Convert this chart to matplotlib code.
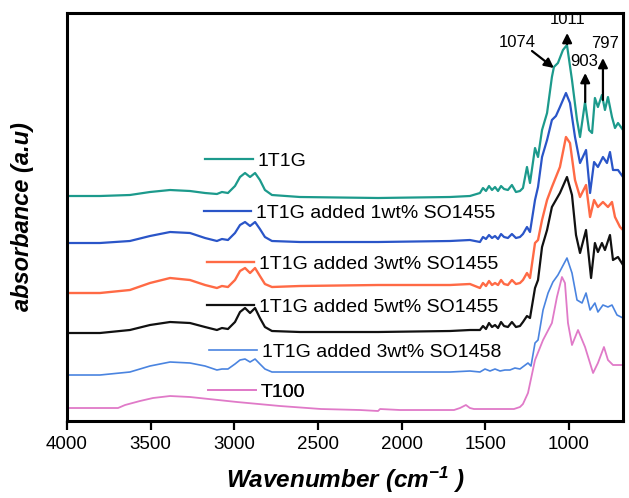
import matplotlib
matplotlib.use("Agg")
import matplotlib.pyplot as plt
from matplotlib.lines import Line2D

plt.rcParams['font.family'] = ['Liberation Sans', 'DejaVu Sans']
plt.rcParams['mathtext.fontset'] = 'custom'
plt.rcParams['mathtext.rm'] = 'Liberation Sans'
plt.rcParams['mathtext.bf'] = 'Liberation Sans:bold:italic'
plt.rcParams['mathtext.it'] = 'Liberation Sans:italic'

# ---------------- data (wavenumber cm-1, absorbance a.u., offset stacked) ----------------
wn_t = [4000, 3803, 3624, 3504, 3384, 3265, 3175, 3104, 3074, 3038, 2996, 2966, 2936, 2906, 2876,
        2847, 2817, 2775, 2608, 2141, 1711, 1592, 1532, 1514, 1496, 1478, 1460, 1442, 1424, 1406,
        1388, 1365, 1341, 1317, 1293, 1275, 1251, 1233, 1203, 1185, 1161, 1131, 1102, 1090, 1066,
        1036, 1012, 982, 952, 934, 904, 880, 862, 845, 827, 803, 785, 767, 743, 725, 707, 677]
ab_t = [2.25, 2.25, 2.26, 2.29, 2.31, 2.30, 2.28, 2.27, 2.29, 2.28, 2.35, 2.44, 2.48, 2.44, 2.48,
        2.41, 2.31, 2.26, 2.24, 2.23, 2.24, 2.25, 2.28, 2.33, 2.30, 2.35, 2.31, 2.34, 2.30, 2.35,
        2.32, 2.31, 2.36, 2.29, 2.30, 2.33, 2.54, 2.38, 2.73, 2.64, 2.91, 3.08, 3.44, 3.54, 3.58,
        3.71, 3.76, 3.41, 3.01, 2.84, 3.19, 2.91, 2.88, 3.23, 3.14, 3.26, 3.11, 3.24, 3.04, 2.93, 2.98, 2.91]

wn_b = [4000, 3803, 3624, 3504, 3384, 3265, 3175, 3104, 3074, 3038, 2996, 2966, 2936, 2906, 2876,
        2847, 2817, 2775, 2608, 2141, 1711, 1592, 1532, 1514, 1496, 1478, 1460, 1442, 1424, 1406,
        1388, 1365, 1341, 1317, 1293, 1275, 1251, 1233, 1203, 1185, 1161, 1131, 1102, 1078, 1054,
        1018, 994, 964, 934, 898, 874, 850, 827, 797, 773, 755, 737, 707, 677]
ab_b = [1.78, 1.78, 1.80, 1.85, 1.89, 1.88, 1.83, 1.80, 1.82, 1.81, 1.88, 1.96, 1.99, 1.95, 1.99,
        1.92, 1.84, 1.80, 1.79, 1.79, 1.80, 1.81, 1.79, 1.84, 1.82, 1.86, 1.83, 1.85, 1.82, 1.87,
        1.84, 1.83, 1.87, 1.83, 1.84, 1.87, 1.94, 1.89, 2.21, 2.34, 2.64, 2.81, 3.01, 3.05, 3.14,
        3.28, 3.18, 2.84, 2.58, 2.71, 2.28, 2.59, 2.54, 2.64, 2.58, 2.69, 2.51, 2.51, 2.44]

wn_o = [4000, 3803, 3624, 3504, 3384, 3265, 3175, 3104, 3074, 3038, 2996, 2966, 2936, 2906, 2876,
        2847, 2817, 2775, 2608, 2141, 1711, 1592, 1532, 1514, 1496, 1478, 1460, 1442, 1424, 1406,
        1388, 1365, 1341, 1317, 1293, 1275, 1251, 1233, 1203, 1185, 1161, 1131, 1102, 1078, 1054,
        1018, 994, 964, 934, 898, 874, 850, 827, 797, 767, 743, 725, 695, 677]
ab_o = [1.28, 1.28, 1.31, 1.38, 1.43, 1.41, 1.36, 1.33, 1.35, 1.34, 1.41, 1.50, 1.53, 1.48, 1.53,
        1.45, 1.37, 1.34, 1.35, 1.36, 1.36, 1.37, 1.33, 1.38, 1.35, 1.40, 1.36, 1.38, 1.36, 1.41,
        1.37, 1.36, 1.41, 1.37, 1.38, 1.41, 1.48, 1.43, 1.78, 1.81, 2.01, 2.21, 2.34, 2.44, 2.54,
        2.84, 2.78, 2.41, 2.24, 2.36, 2.04, 2.21, 2.14, 2.19, 2.14, 2.19, 2.04, 1.94, 1.91]

wn_k = [4000, 3803, 3624, 3504, 3384, 3265, 3175, 3104, 3074, 3038, 2996, 2966, 2936, 2906, 2876,
        2847, 2817, 2775, 2608, 2141, 1711, 1592, 1532, 1514, 1496, 1478, 1460, 1442, 1424, 1406,
        1388, 1365, 1341, 1317, 1293, 1275, 1251, 1233, 1203, 1185, 1161, 1131, 1102, 1078, 1054,
        1012, 982, 958, 934, 898, 868, 845, 827, 803, 785, 755, 737, 707, 677]
ab_k = [0.88, 0.88, 0.91, 0.96, 0.99, 0.98, 0.94, 0.91, 0.93, 0.92, 0.99, 1.09, 1.13, 1.08, 1.13,
        1.03, 0.94, 0.90, 0.89, 0.89, 0.90, 0.91, 0.91, 0.95, 0.92, 0.98, 0.94, 0.96, 0.93, 0.99,
        0.95, 0.94, 0.99, 0.94, 0.95, 0.99, 1.05, 1.03, 1.33, 1.41, 1.74, 1.91, 2.14, 2.21, 2.28,
        2.44, 2.26, 1.86, 1.68, 1.91, 1.43, 1.78, 1.69, 1.78, 1.71, 1.86, 1.61, 1.64, 1.56]

wn_l = [4000, 3803, 3624, 3504, 3384, 3265, 3175, 3104, 3074, 3038, 2996, 2966, 2936, 2906, 2876,
        2847, 2817, 2775, 2608, 2141, 1711, 1592, 1532, 1502, 1472, 1442, 1412, 1383, 1353, 1323,
        1293, 1269, 1245, 1227, 1203, 1185, 1155, 1125, 1096, 1066, 1012, 982, 952, 922, 898,
        874, 845, 827, 797, 767, 743, 713, 677]
ab_l = [0.46, 0.46, 0.49, 0.55, 0.59, 0.58, 0.55, 0.51, 0.52, 0.52, 0.57, 0.61, 0.62, 0.59, 0.62,
        0.57, 0.52, 0.49, 0.49, 0.49, 0.49, 0.50, 0.49, 0.52, 0.50, 0.52, 0.50, 0.51, 0.51, 0.53,
        0.52, 0.55, 0.58, 0.55, 0.78, 0.81, 1.11, 1.28, 1.39, 1.46, 1.63, 1.48, 1.21, 1.18, 1.28,
        1.11, 1.18, 1.09, 1.16, 1.14, 1.16, 1.06, 1.03]

wn_p = [4000, 3803, 3695, 3653, 3564, 3486, 3384, 3265, 2984, 2727, 2482, 2249, 2141, 2129, 2010,
        1878, 1687, 1651, 1616, 1592, 1568, 1412, 1329, 1293, 1275, 1245, 1203, 1155, 1102, 1072,
        1042, 1024, 1006, 982, 946, 904, 856, 827, 791, 767, 737, 677]
ab_p = [0.13, 0.13, 0.13, 0.16, 0.20, 0.23, 0.25, 0.24, 0.19, 0.15, 0.12, 0.11, 0.10, 0.12, 0.11,
        0.11, 0.11, 0.13, 0.16, 0.13, 0.12, 0.12, 0.12, 0.14, 0.17, 0.28, 0.61, 0.81, 0.98, 1.24,
        1.44, 1.38, 0.98, 0.76, 0.91, 0.74, 0.48, 0.58, 0.74, 0.61, 0.56, 0.56]

labels = ["1T1G", "1T1G added 1wt% SO1455", "1T1G added 3wt% SO1455",
          "1T1G added 5wt% SO1455", "1T1G added 3wt% SO1458", "T100"]
colors = ["#1c9a8c", "#2a55c8", "#ff6a45", "#111111", "#4a84e0", "#e07ac8"]
widths = [1.6, 1.6, 1.7, 1.6, 1.2, 1.3]

peak_wn = [1074, 1011, 903, 797]
xticks = [4000, 3500, 3000, 2500, 2000, 1500, 1000]

# ---------------- figure ----------------
fig = plt.figure(figsize=(6.29, 4.98), dpi=100)
ax = fig.add_axes([0.1065, 0.1546, 0.8840, 0.8193])

series = [(wn_t, ab_t), (wn_b, ab_b), (wn_o, ab_o), (wn_k, ab_k), (wn_l, ab_l), (wn_p, ab_p)]
handles = []
for (x, y), c, lw, lab in zip(series, colors, widths, labels):
    h, = ax.plot(x, y, color=c, lw=lw, label=lab, solid_joinstyle='round')
    handles.append(h)

ax.set_xlim(4000, 677)
ax.set_ylim(0, 4.08)
ax.set_xticks(xticks)
ax.set_xticklabels([str(t) for t in xticks], fontsize=13.5)
ax.set_yticks([])
ax.tick_params(axis='x', direction='out', length=6.5, width=1.6, pad=4)
for s in ax.spines.values():
    s.set_linewidth(2.2)

ax.set_xlabel(r'Wavenumber (cm$^{\mathbf{-1}}$ )', fontsize=17.5, fontweight='bold',
              fontstyle='italic', labelpad=9)
ax.set_ylabel('absorbance (a.u)', fontsize=17, fontweight='bold', fontstyle='italic', labelpad=24)

# legend entries placed next to each curve
leg_pos = [(0.248, 0.637), (0.246, 0.510), (0.251, 0.385), (0.251, 0.279), (0.256, 0.169), (0.254, 0.071)]
for h, lab, (lx, ly) in zip(handles, labels, leg_pos):
    lg = ax.legend([Line2D([], [], color=h.get_color(), lw=h.get_linewidth())], [lab],
                   loc='center left', bbox_to_anchor=(lx, ly), frameon=False, fontsize=14,
                   handlelength=2.45, handletextpad=0.25, borderpad=0, borderaxespad=0)
    ax.add_artist(lg)

# peak annotations
akw = dict(arrowstyle='-|>', color='black', lw=1.6, mutation_scale=14, shrinkA=0, shrinkB=0)
ax.annotate('', xy=(peak_wn[0] + 16, 3.53), xytext=(1221, 3.70), arrowprops=akw)
ax.text(1311, 3.78, str(peak_wn[0]), ha='center', va='center', fontsize=12)
ax.annotate('', xy=(peak_wn[1], 3.88), xytext=(peak_wn[1], 3.77), arrowprops=akw)
ax.text(peak_wn[1], 4.015, str(peak_wn[1]), ha='center', va='center', fontsize=12)
ax.annotate('', xy=(peak_wn[2], 3.48), xytext=(peak_wn[2], 3.19), arrowprops=akw)
ax.text(peak_wn[2] + 8, 3.59, str(peak_wn[2]), ha='center', va='center', fontsize=12)
ax.annotate('', xy=(peak_wn[3], 3.63), xytext=(peak_wn[3], 3.21), arrowprops=akw)
ax.text(peak_wn[3] - 12, 3.77, str(peak_wn[3]), ha='center', va='center', fontsize=12)

fig.savefig("out.png", dpi=100)
